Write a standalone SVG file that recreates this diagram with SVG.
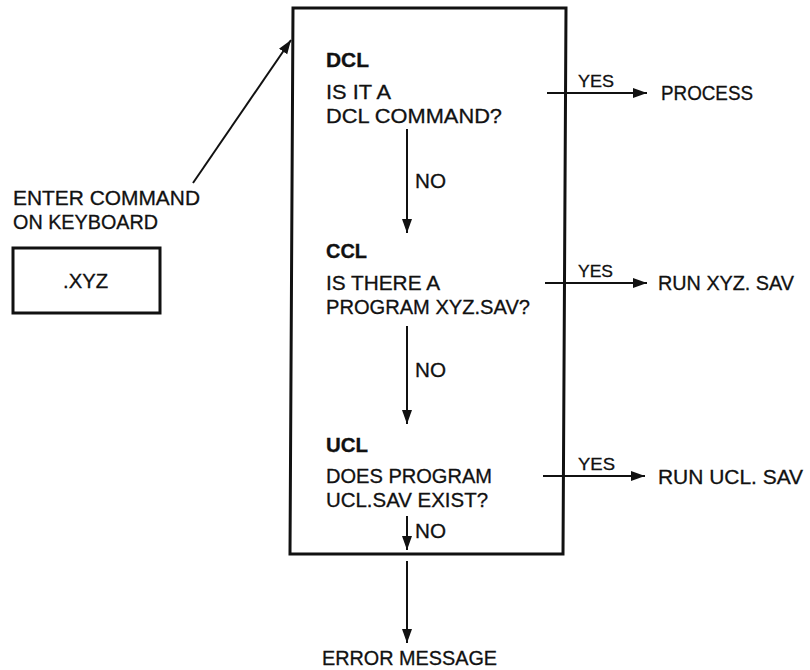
<svg xmlns="http://www.w3.org/2000/svg" width="810" height="670" viewBox="0 0 810 670">
  <style>
    text { font-family: "Liberation Sans", Arial, Helvetica, sans-serif; fill: #111; stroke: #111; stroke-width: 0.3; }
    .t { font-size: 20px; }
    .h { font-size: 20px; font-weight: bold; }
    .y { font-size: 17px; }
    .frame { fill: none; stroke: #111; stroke-width: 3; }
    .wire { fill: none; stroke: #111; stroke-width: 2; }
  </style>
  <defs>
    <marker id="arrow" markerUnits="userSpaceOnUse" markerWidth="16" markerHeight="12" refX="14" refY="5" orient="auto">
      <path d="M0,0 L14,5 L0,10 Z" fill="#111"/>
    </marker>
  </defs>
  <rect width="810" height="670" fill="#fff"/>

  <!-- keyboard entry -->
  <g id="keyboard">
    <text class="t" x="13" y="205" textLength="187" lengthAdjust="spacingAndGlyphs">ENTER COMMAND</text>
    <text class="t" x="13" y="229" textLength="145" lengthAdjust="spacingAndGlyphs">ON KEYBOARD</text>
    <rect class="frame" x="13" y="248" width="147" height="65" stroke-width="2.5"/>
    <text class="t" x="63" y="288" textLength="45" lengthAdjust="spacingAndGlyphs">.XYZ</text>
  </g>

  <!-- command interpreter chain -->
  <g id="interpreter">
    <polygon class="frame" points="293,8 566,8 563,554 290,554"/>
  </g>

  <g id="dcl">
    <text class="h" x="326" y="67" textLength="43" lengthAdjust="spacingAndGlyphs">DCL</text>
    <text class="t" x="326" y="99" textLength="65" lengthAdjust="spacingAndGlyphs">IS IT A</text>
    <text class="t" x="326" y="123" textLength="176" lengthAdjust="spacingAndGlyphs">DCL COMMAND?</text>
  </g>

  <g id="ccl">
    <text class="h" x="326" y="258" textLength="41" lengthAdjust="spacingAndGlyphs">CCL</text>
    <text class="t" x="326" y="290" textLength="114" lengthAdjust="spacingAndGlyphs">IS THERE A</text>
    <text class="t" x="326" y="314" textLength="204" lengthAdjust="spacingAndGlyphs">PROGRAM XYZ.SAV?</text>
  </g>

  <g id="ucl">
    <text class="h" x="326" y="452" textLength="42" lengthAdjust="spacingAndGlyphs">UCL</text>
    <text class="t" x="326" y="483" textLength="166" lengthAdjust="spacingAndGlyphs">DOES PROGRAM</text>
    <text class="t" x="326" y="507" textLength="162" lengthAdjust="spacingAndGlyphs">UCL.SAV EXIST?</text>
  </g>

  <!-- outcomes -->
  <g id="process">
    <text class="t" x="661" y="100" textLength="92" lengthAdjust="spacingAndGlyphs">PROCESS</text>
  </g>
  <g id="run-xyz">
    <text class="t" x="658" y="290" textLength="136" lengthAdjust="spacingAndGlyphs">RUN XYZ. SAV</text>
  </g>
  <g id="run-ucl">
    <text class="t" x="658" y="484" textLength="145" lengthAdjust="spacingAndGlyphs">RUN UCL. SAV</text>
  </g>
  <g id="error">
    <text class="t" x="322" y="665" textLength="175" lengthAdjust="spacingAndGlyphs">ERROR MESSAGE</text>
  </g>

  <!-- connectors -->
  <g id="connectors">
    <line class="wire" x1="193" y1="183" x2="291" y2="40" marker-end="url(#arrow)"/>

    <line class="wire" x1="407" y1="129" x2="407" y2="233" marker-end="url(#arrow)"/>
    <text class="t" x="415" y="188" textLength="31" lengthAdjust="spacingAndGlyphs">NO</text>

    <line class="wire" x1="407" y1="326" x2="407" y2="424" marker-end="url(#arrow)"/>
    <text class="t" x="415" y="377" textLength="31" lengthAdjust="spacingAndGlyphs">NO</text>

    <line class="wire" x1="407" y1="516" x2="407" y2="550" marker-end="url(#arrow)"/>
    <text class="t" x="415" y="538" textLength="31" lengthAdjust="spacingAndGlyphs">NO</text>

    <line class="wire" x1="407" y1="561" x2="407" y2="643" marker-end="url(#arrow)"/>

    <line class="wire" x1="547" y1="93" x2="647" y2="93" marker-end="url(#arrow)"/>
    <text class="y" x="578" y="87" textLength="36" lengthAdjust="spacingAndGlyphs">YES</text>

    <line class="wire" x1="545" y1="283" x2="647" y2="283" marker-end="url(#arrow)"/>
    <text class="y" x="578" y="277" textLength="35" lengthAdjust="spacingAndGlyphs">YES</text>

    <line class="wire" x1="543" y1="476" x2="645" y2="476" marker-end="url(#arrow)"/>
    <text class="y" x="578" y="470" textLength="37" lengthAdjust="spacingAndGlyphs">YES</text>
  </g>
</svg>
